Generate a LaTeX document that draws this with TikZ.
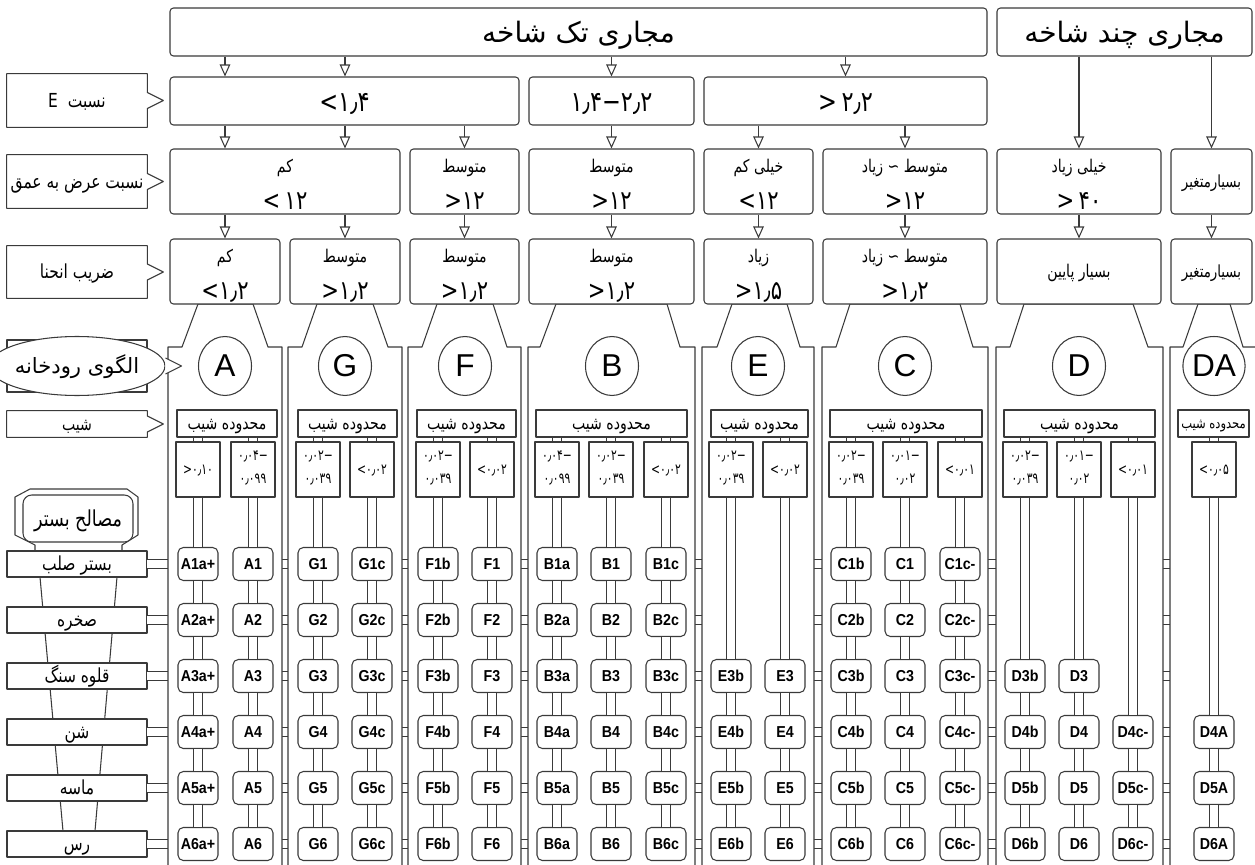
\documentclass[tikz,border=0pt]{standalone}
\usepackage{fontspec}
\setmainfont{Liberation Sans}
\newfontfamily\faf[Script=Arabic]{DejaVu Sans}
\newfontfamily\fafn[Script=Arabic,FakeStretch=0.8]{DejaVu Sans}
\newfontfamily\fanum[FakeStretch=0.8]{DejaVu Sans}
\newfontfamily\fanumsm[FakeStretch=0.72]{DejaVu Sans}
\newfontfamily\chipfont[FakeStretch=0.9]{Liberation Sans}
\TeXXeTstate=1
\usepackage{xcolor}
\definecolor{cLine}{HTML}{3A3A3A}
\usetikzlibrary{positioning,arrows.meta,shapes.geometric}
\newcommand\fawd{\fafn\fontsize{10}{12}\selectfont}
\newcommand\fahd{\faf\fontsize{16}{18}\selectfont}
\newcommand\falb{\fafn\fontsize{11}{13}\selectfont}
\newcommand\fanm{\fanum\fontsize{16}{18}\selectfont}
\newcommand\famd{\fanum\fontsize{15}{17}\selectfont}
\newcommand\fasm{\fanumsm\fontsize{8.5}{10}\selectfont}
% fixed heights so that the Persian lines sit in the middle of the boxes
\newcommand\pw[1]{\raisebox{0pt}[0.82em][0.1em]{#1}}
\newcommand\pt[1]{\raisebox{0pt}[1.1em][0.75em]{#1}}
\newcommand\pn[1]{\raisebox{0pt}[0.72em][0pt]{#1}}
\newcommand\pl[1]{\raisebox{0pt}[0.75em][0.45em]{#1}}
\tikzset{
  span/.style n args={4}{minimum width={(#3-#1)*0.02cm},
    minimum height={(#4-#2)*0.02cm},at={({(#1+#3)/2},{(#2+#4)/2})}},
  box/.style={draw=cLine,line width=0.6pt,rounded corners=2pt,fill=white,inner sep=0pt},
  sqbox/.style={draw=cLine,line width=0.6pt,fill=white,inner sep=0pt},
  tag/.style={inner sep=0pt,font=\falb},
  slope/.style={sqbox,minimum width=0.88cm,minimum height=1.1cm,font=\fasm},
  chip/.style={draw=cLine,line width=0.6pt,rounded corners=3pt,fill=white,
    minimum width=0.8cm,minimum height=0.66cm,inner sep=0pt,
    font={\chipfont\bfseries\fontsize{9}{9}\selectfont}},
  letter/.style={draw=cLine,line width=0.6pt,ellipse,fill=white,inner sep=0pt,
    minimum width=1.06cm,minimum height=1.18cm,font=\fontsize{18}{18}\selectfont},
  arrow/.style={-{Triangle[open,length=0.24cm,width=0.21cm]},draw=cLine,line width=0.6pt},
  dbl-line/.style={draw=cLine,line width=0.6pt,double=white,double distance=5pt},
  band/.style={draw=cLine,line width=0.6pt,double=white,double distance=4.4pt},
  panel/.style={draw=cLine,line width=0.6pt,fill=white},
  outline/.style={draw=cLine,line width=0.6pt},
}
\newcommand\tagline[1]{%
  \draw[outline] (#1.north west) -- (#1.north east) -- ([yshift=0.16cm]#1.east)
    -- ++(16,8) -- ([yshift=-0.16cm]#1.east) -- (#1.south east)
    -- (#1.south west) -- cycle;}
\newcommand\twol[2]{\shortstack{{\fawd\pt{#1}}\\{\famd\pn{#2}}}}
\newcommand\twos[2]{\shortstack{\pl{#1}\\\pl{#2}}}

\begin{document}
\begin{tikzpicture}[x=0.02cm,y=-0.02cm,line join=round]
  \useasboundingbox (0,0) rectangle (1255,865);

  % bed material column on the left
  \draw[outline] (40,577) -- (63,831);
  \draw[outline] (117,577) -- (95,831);
  \foreach \t [count=\r] in {بستر صلب,صخره,قلوه سنگ,شن,ماسه,رس}
    \node[sqbox,minimum width=2.8cm,minimum height=0.52cm,
      font=\fafn\fontsize{11}{13}\selectfont]
      (bed\r) at (77,{564+56*(\r-1)}) {\pw{\beginR \t\endR}};
  \draw[outline] (35,551) -- (35,545) -- (15,535) -- (15,497) -- (30,489)
    -- (127,489) -- (138,497) -- (138,535) -- (122,545) -- (122,551);
  \node[sqbox,rounded corners=5pt,span={23}{495}{133}{542},
    font=\fafn\fontsize{12.5}{14}\selectfont] (bedmat) {\pw{\beginR مصالح بستر\endR}};

  % row bands behind the panels
  \foreach \r in {1,...,6}
    \draw[band] ([xshift=-0.4pt]bed\r.east) -- ++(1112,0);

  % panels of the stream types
  \foreach \l/\a/\b/\c/\d/\rr in {168/182/198/253/268/282, 288/302/317/373/388/402,
      408/422/437/493/507/521, 528/540/556/667/680/695, 702/717/732/787/800/814,
      822/836/850/960/973/988, 996/1010/1024/1133/1148/1163, 1170/1183/1198/1230/1243/1257}
    \path[panel] (\l,868) -- (\l,347) -- (\a,347) -- (\b,304) -- (\c,304)
      -- (\d,347) -- (\rr,347) -- (\rr,868);

  % first row
  \node[box,span={170}{8}{987}{56},font=\fahd] (single) {\pw{\beginR مجاری تک شاخه\endR}};
  \node[box,span={997}{8}{1252}{56},font=\fahd] (multi) {\pw{\beginR مجاری چند شاخه\endR}};

  % entrenchment ratio
  \node[box,span={170}{77}{519}{125},font=\fanm] (er1) {\pn{<۱٫۴}};
  \node[box,span={529}{77}{694}{125},font=\fanm] (er2) {\pn{۱٫۴−۲٫۲}};
  \node[box,span={704}{77}{987}{125},font=\fanm] (er3) {\pn{>\,۲٫۲}};

  % width / depth ratio
  \node[box,span={170}{149}{400}{214}] (wd1) {\twol{کم}{<\,۱۲}};
  \node[box,span={410}{149}{519}{214}] (wd2) {\twol{متوسط}{>۱۲}};
  \node[box,span={529}{149}{694}{214}] (wd3) {\twol{متوسط}{>۱۲}};
  \node[box,span={704}{149}{813}{214}] (wd4) {\twol{\beginR خیلی کم\endR}{<۱۲}};
  \node[box,span={823}{149}{987}{214}] (wd5) {\twol{\beginR متوسط ∼ زیاد\endR}{>۱۲}};
  \node[box,span={997}{149}{1161}{214}] (wd6) {\twol{\beginR خیلی زیاد\endR}{>\,۴۰}};
  \node[box,span={1171}{149}{1252}{214},font=\fafn\fontsize{9.5}{11}\selectfont] (wd7) {\pw{بسیارمتغیر}};

  % sinuosity
  \node[box,span={170}{239}{280}{304}] (sn1) {\twol{کم}{<۱٫۲}};
  \node[box,span={290}{239}{400}{304}] (sn2) {\twol{متوسط}{>۱٫۲}};
  \node[box,span={410}{239}{519}{304}] (sn3) {\twol{متوسط}{>۱٫۲}};
  \node[box,span={529}{239}{694}{304}] (sn4) {\twol{متوسط}{>۱٫۲}};
  \node[box,span={704}{239}{813}{304}] (sn5) {\twol{زیاد}{>۱٫۵}};
  \node[box,span={823}{239}{987}{304}] (sn6) {\twol{\beginR متوسط ∼ زیاد\endR}{>۱٫۲}};
  \node[box,span={997}{239}{1161}{304},font=\fawd] (sn7) {\pw{\beginR بسیار پایین\endR}};
  \node[box,span={1171}{239}{1252}{304},font=\fafn\fontsize{9.5}{11}\selectfont] (sn8) {\pw{بسیارمتغیر}};

  % arrows between the rows
  \draw[arrow] (single.south -| sn1) -- (er1.north -| sn1);
  \draw[arrow] (single.south -| sn2) -- (er1.north -| sn2);
  \draw[arrow] (single.south -| er2) -- (er2.north);
  \draw[arrow] (single.south -| er3) -- (er3.north);
  \draw[arrow] (er1.south -| sn1) -- (wd1.north -| sn1);
  \draw[arrow] (er1.south -| sn2) -- (wd1.north -| sn2);
  \draw[arrow] (er1.south -| wd2) -- (wd2.north);
  \draw[arrow] (er2.south -| wd3) -- (wd3.north);
  \draw[arrow] (er3.south -| wd4) -- (wd4.north);
  \draw[arrow] (er3.south -| wd5) -- (wd5.north);
  \draw[arrow] (multi.south -| wd6) -- (wd6.north);
  \draw[arrow] (multi.south -| wd7) -- (wd7.north);
  \draw[arrow] (wd1.south -| sn1) -- (sn1.north);
  \draw[arrow] (wd1.south -| sn2) -- (sn2.north);
  \draw[arrow] (wd2.south) -- (sn3.north);
  \draw[arrow] (wd3.south) -- (sn4.north);
  \draw[arrow] (wd4.south) -- (sn5.north);
  \draw[arrow] (wd5.south) -- (sn6.north);
  \draw[arrow] (wd6.south) -- (sn7.north);
  \draw[arrow] (wd7.south) -- (sn8.north);

  % stream type letters
  \foreach \t/\x in {A/225,G/345,F/465,B/612,E/758,C/905,D/1079,DA/1214}
    \node[letter] (type\t) at (\x,366) {\t};

  % slope range headers
  \foreach \n/\a/\b in {hA/177/277,hG/298/397,hF/417/516,hB/536/687,hE/711/808,
      hC/830/982,hD/1004/1155}
    \node[sqbox,span={\a}{410}{\b}{437},font=\fafn\fontsize{10}{11}\selectfont] (\n) {\pw{\beginR محدوده شیب\endR}};
  \node[sqbox,span={1178}{410}{1249}{437},font=\fafn\fontsize{8.2}{10}\selectfont] (hDA) {\pw{\beginR محدوده شیب\endR}};

  % slope values
  \foreach \x/\v [count=\k] in {198/{\pn{>۰٫۱۰}}, 253/{\twos{۰٫۰۴−}{۰٫۰۹۹}},
      318/{\twos{۰٫۰۲−}{۰٫۰۳۹}}, 372/{\pn{<۰٫۰۲}}, 438/{\twos{۰٫۰۲−}{۰٫۰۳۹}},
      492/{\pn{<۰٫۰۲}}, 557/{\twos{۰٫۰۴−}{۰٫۰۹۹}}, 611/{\twos{۰٫۰۲−}{۰٫۰۳۹}},
      666/{\pn{<۰٫۰۲}}, 731/{\twos{۰٫۰۲−}{۰٫۰۳۹}}, 785/{\pn{<۰٫۰۲}},
      851/{\twos{۰٫۰۲−}{۰٫۰۳۹}}, 905/{\twos{۰٫۰۱−}{۰٫۰۲}}, 960/{\pn{<۰٫۰۱}},
      1025/{\twos{۰٫۰۲−}{۰٫۰۳۹}}, 1079/{\twos{۰٫۰۱−}{۰٫۰۲}}, 1133/{\pn{<۰٫۰۱}},
      1214/{\pn{<۰٫۰۵}}}
    \node[slope] (sl\k) at (\x,469.5) {\v};

  % stream types by bed material
  \foreach \x/\h/\p/\s/\f [count=\k] in {198/hA/A/a+/1, 253/hA/A//1, 318/hG/G//1,
      372/hG/G/c/1, 438/hF/F/b/1, 492/hF/F//1, 557/hB/B/a/1, 611/hB/B//1,
      666/hB/B/c/1, 731/hE/E/b/3, 785/hE/E//3, 851/hC/C/b/1, 905/hC/C//1,
      960/hC/C/c-/1, 1025/hD/D/b/3, 1079/hD/D//3, 1133/hD/D/c-/4, 1214/hDA/D/A/4}
  {
    \foreach \r in {\f,...,6}
      \node[chip] (ch\k-\r) at (\x,{564+56*(\r-1)}) {\p\r\s};
    \draw[dbl-line] (\h.south -| sl\k) -- (sl\k.north);
    \draw[dbl-line] (sl\k.south) -- (ch\k-\f.north);
    \foreach \r in {\f,...,5} {
      \pgfmathtruncatemacro\rn{\r+1}
      \draw[dbl-line] (ch\k-\r.south) -- (ch\k-\rn.north);
    }
  }

  % labels on the left
  \node[tag,span={7}{74}{147}{127}] (lblE) {\pw{\beginR نسبت \ E\endR}};
  \tagline{lblE}
  \node[tag,span={7}{155}{147}{208}] (lblWD) {\pw{\beginR نسبت عرض به عمق\endR}};
  \tagline{lblWD}
  \node[tag,span={7}{246}{147}{298}] (lblSN) {\pw{\beginR ضریب انحنا\endR}};
  \tagline{lblSN}
  \node[tag,span={7}{411}{147}{437},font=\fafn\fontsize{10}{11}\selectfont] (lblSL) {\pw{شیب}};
  \tagline{lblSL}
  \draw[outline] (7,340) rectangle (147,392);
  \node[draw=cLine,line width=0.6pt,ellipse,fill=white,inner sep=0pt,
    minimum width=2.84cm,minimum height=1.18cm,font=\faf\fontsize{12}{13}\selectfont]
    (lblPT) at (77,366) {\pw{\beginR الگوی رودخانه\endR}};
  \draw[outline,fill=white] ([yshift=0.16cm]lblPT.east) -- ++(16,8)
    -- ([yshift=-0.16cm]lblPT.east);
\end{tikzpicture}
\end{document}
